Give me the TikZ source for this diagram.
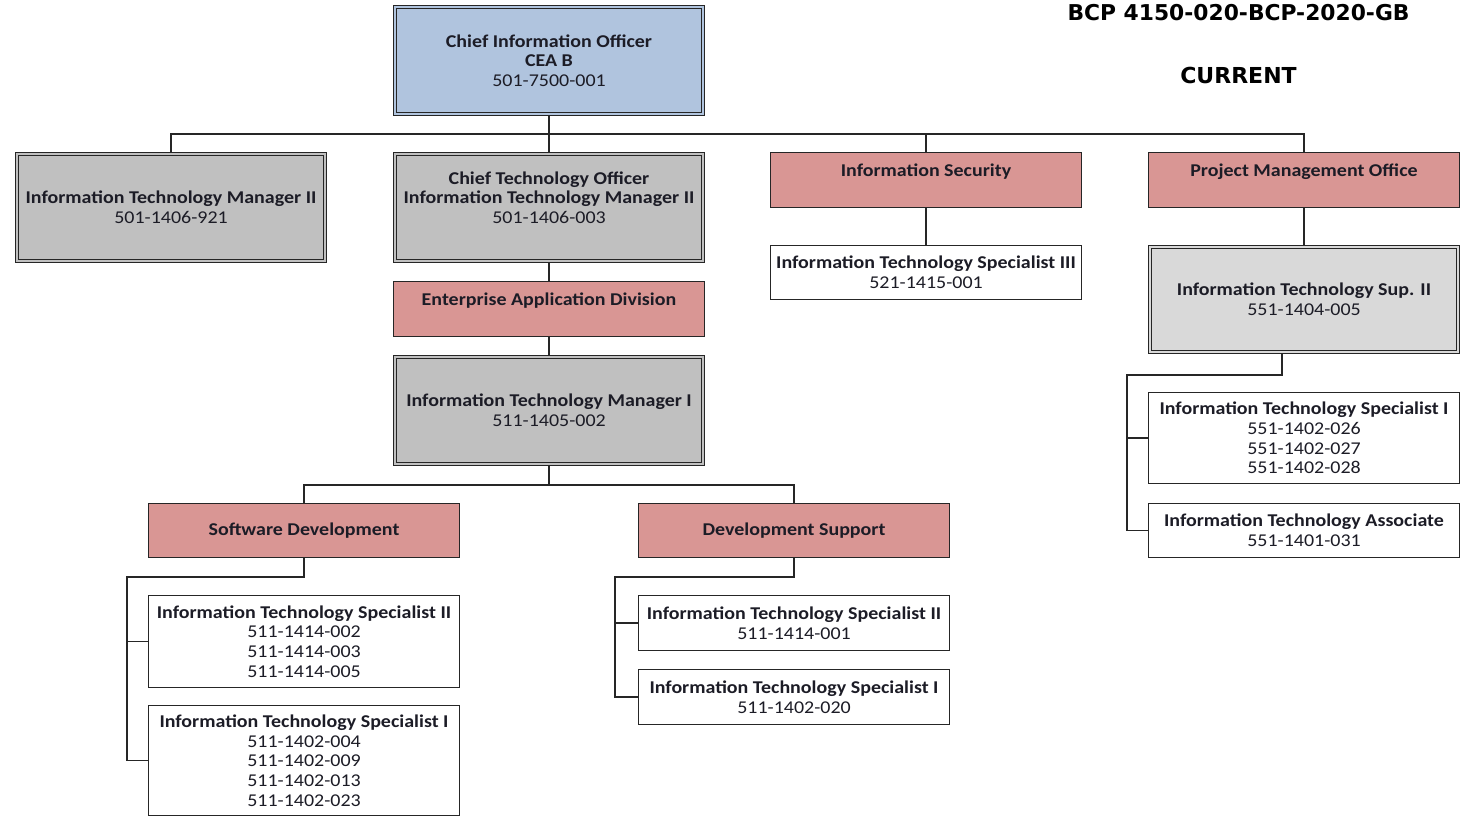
\documentclass[tikz,border=0pt]{standalone}
\usepackage{fontspec}
\setmainfont{Carlito}[FakeStretch=1.11]
\newfontfamily\titlefont{DejaVu Sans}
\usetikzlibrary{backgrounds}
\definecolor{cioblue}{RGB}{176,196,222}
\definecolor{mgrgray}{RGB}{192,192,192}
\definecolor{supgray}{RGB}{217,217,217}
\definecolor{unitred}{RGB}{217,150,148}
\definecolor{ink}{RGB}{28,28,38}
\begin{document}
\begin{tikzpicture}[x=1pt,y=-1pt,
  every node/.style={align=center, inner sep=0pt, text=ink,
    font=\fontsize{18}{19.7}\selectfont},
  plainbox/.style={draw=black!85, line width=1.4pt, fill=white,
    minimum width=310.6pt},
  unitbox/.style={plainbox, fill=unitred},
  mgrbox/.style={draw=black!85, line width=1.2pt, double distance=2pt,
    fill=mgrgray, double=mgrgray, minimum width=307.6pt},
  link/.style={draw=black!85, line width=1.4pt},
  title/.style={font=\titlefont\bfseries\fontsize{21.8}{25}\selectfont, text=black}
]
\useasboundingbox (0,0) rectangle (1462,817);

% headings
\node[title] (code) at (1238.5,13) {BCP 4150-020-BCP-2020-GB};
\node[title, font=\titlefont\bfseries\fontsize{22}{25}\selectfont] (state) at (1238.5,75) {CURRENT};

% top level
\node[mgrbox, fill=cioblue, double=cioblue, minimum height=106.6pt] (cio) at (549,60.5)
  {\textbf{Chief Information Officer}\\\textbf{CEA B}\\501-7500-001};
\node[mgrbox, minimum height=106.6pt] (itm2) at (171,207.5)
  {\textbf{Information Technology Manager II}\\501-1406-921};
\node[mgrbox, minimum height=106.6pt] (cto) at (549,207.5)
  {\textbf{Chief Technology Officer}\\\textbf{Information Technology Manager II}\\501-1406-003\\[0pt]\mbox{}};
\node[unitbox, minimum height=54.6pt] (sec) at (926,180)
  {\textbf{Information Security}\\\mbox{}};
\node[unitbox, minimum height=54.6pt] (pmo) at (1304,180)
  {\textbf{Project Management Office}\\\mbox{}};

% information security
\node[plainbox, minimum height=53.6pt] (its3) at (926,272.5)
  {\textbf{Information Technology Specialist III}\\521-1415-001};

% project management office
\node[mgrbox, fill=supgray, double=supgray, minimum height=104.6pt] (sup) at (1304,299.5)
  {\textbf{Information Technology Sup. II}\\551-1404-005};
\node[plainbox, minimum height=90.6pt] (pits1) at (1304,438)
  {\textbf{Information Technology Specialist I}\\551-1402-026\\551-1402-027\\551-1402-028};
\node[plainbox, minimum height=53.6pt] (pita) at (1304,530.5)
  {\textbf{Information Technology Associate}\\551-1401-031};

% enterprise applications
\node[unitbox, minimum height=54.6pt] (ead) at (549,309)
  {\textbf{Enterprise Application Division}\\\mbox{}};
\node[mgrbox, minimum height=106.6pt] (itm1) at (549,410.5)
  {\textbf{Information Technology Manager I}\\511-1405-002};
\node[unitbox, minimum height=53.6pt] (sd) at (304,530.5)
  {\textbf{Software Development}};
\node[unitbox, minimum height=53.6pt] (ds) at (794,530.5)
  {\textbf{Development Support}};

% software development staff
\node[plainbox, minimum height=91.6pt] (sits2) at (304,641.5)
  {\textbf{Information Technology Specialist II}\\511-1414-002\\511-1414-003\\511-1414-005};
\node[plainbox, minimum height=109.6pt] (sits1) at (304,760.5)
  {\textbf{Information Technology Specialist I}\\511-1402-004\\511-1402-009\\511-1402-013\\511-1402-023};

% development support staff
\node[plainbox, minimum height=54.6pt] (dits2) at (794,623)
  {\textbf{Information Technology Specialist II}\\511-1414-001};
\node[plainbox, minimum height=54.6pt] (dits1) at (794,697)
  {\textbf{Information Technology Specialist I}\\511-1402-020};

% reporting lines
\begin{scope}[on background layer]
  \coordinate (bus) at (549,134);
  \draw[link] (cio.south) -- (bus);
  \draw[link] (itm2.north) -- (itm2.north |- bus) -- (pmo.north |- bus) -- (pmo.north);
  \draw[link] (cto.north) -- (cto.north |- bus);
  \draw[link] (sec.north) -- (sec.north |- bus);
  \draw[link] (sec.south) -- (its3.north);
  \draw[link] (pmo.south) -- (sup.north);
  \draw[link] (cto.south) -- (ead.north);
  \draw[link] (ead.south) -- (itm1.north);

  \coordinate (split) at (549,485);
  \draw[link] (itm1.south) -- (split);
  \draw[link] (sd.north) -- (sd.north |- split) -- (ds.north |- split) -- (ds.north);

  \coordinate (sdrail) at (127,577);
  \draw[link] (sd.south) |- (sdrail) |- (sits1.west);
  \draw[link] (sdrail |- sits2.west) -- (sits2.west);

  \coordinate (dsrail) at (615,577);
  \draw[link] (ds.south) |- (dsrail) |- (dits1.west);
  \draw[link] (dsrail |- dits2.west) -- (dits2.west);

  \coordinate (pmrail) at (1127,375);
  \draw[link] ([xshift=-22pt]sup.south) |- (pmrail) |- (pita.west);
  \draw[link] (pmrail |- pits1.west) -- (pits1.west);
\end{scope}
\end{tikzpicture}
\end{document}
